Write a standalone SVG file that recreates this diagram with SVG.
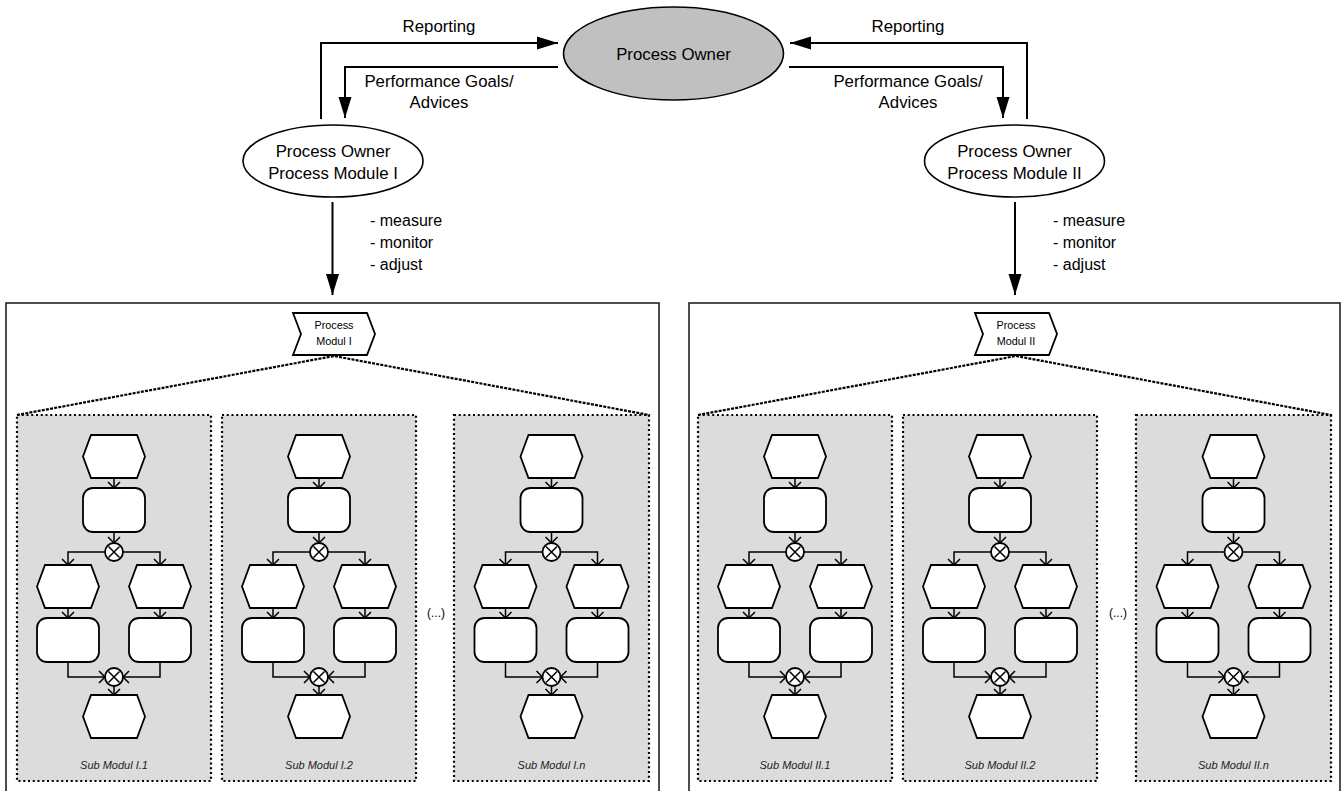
<svg xmlns="http://www.w3.org/2000/svg" xmlns:xlink="http://www.w3.org/1999/xlink" width="1342" height="791" viewBox="0 0 1342 791">
  <style>
    text { font-family: "Liberation Sans", Arial, sans-serif; fill: #000; }
    .lbl { font-size: 16.8px; text-anchor: middle; }
    .lst { font-size: 16px; }
    .small { font-size: 10.8px; text-anchor: middle; }
    .dots { font-size: 12px; text-anchor: middle; }
    .sub { font-size: 11px; font-style: italic; text-anchor: middle; fill: #222; }
    .frame { fill: #fff; stroke: #222; stroke-width: 1.6; }
    .panel { fill: #dcdcdc; stroke: #000; stroke-width: 2.2; stroke-dasharray: 2 2.75; }
    .zoomline { fill: none; stroke: #000; stroke-width: 2.2; stroke-dasharray: 3 1.2; }
    .conn { fill: none; stroke: #000; stroke-width: 2; }
    .flowline { fill: none; stroke: #000; stroke-width: 1.5; }
    .shape { fill: #fff; stroke: #000; stroke-width: 1.8; }
  </style>
  <defs>
    <marker id="solidHead" markerUnits="userSpaceOnUse" markerWidth="22" markerHeight="14" viewBox="0 0 22 14" refX="21" refY="7" orient="auto">
      <path d="M0,0.5 L21,7 L0,13.5 Z" fill="#000"/>
    </marker>
    <marker id="openHead" markerUnits="userSpaceOnUse" markerWidth="16" markerHeight="16" viewBox="-8 -8 16 16" refX="0" refY="0" orient="auto">
      <path d="M-6,-6 L0,0 L-6,6" fill="none" stroke="#000" stroke-width="1.5"/>
    </marker>
    <!-- generic process flow drawn around x = 0 -->
    <g id="flow">
      <g class="flow-links">
        <path class="flowline" d="M0,478 V488" marker-end="url(#openHead)"/>
        <path class="flowline" d="M0,532 V543" marker-end="url(#openHead)"/>
        <path class="flowline" d="M-9,552 H-46 V565" marker-end="url(#openHead)"/>
        <path class="flowline" d="M9,552 H46 V565" marker-end="url(#openHead)"/>
        <path class="flowline" d="M-46,608 V618" marker-end="url(#openHead)"/>
        <path class="flowline" d="M46,608 V618" marker-end="url(#openHead)"/>
        <path class="flowline" d="M-46,662 V677 H-9" marker-end="url(#openHead)"/>
        <path class="flowline" d="M46,662 V677 H9" marker-end="url(#openHead)"/>
        <path class="flowline" d="M0,686 V695" marker-end="url(#openHead)"/>
      </g>
      <polygon class="shape" points="-31,456.5 -23,435 23,435 31,456.5 23,478 -23,478"/>
      <rect class="shape" x="-31" y="488" width="62" height="44" rx="10"/>
      <g class="xor">
        <circle class="shape" cx="0" cy="552" r="9"/>
        <path class="flowline" d="M-5.5,546.5 L5.5,557.5 M5.5,546.5 L-5.5,557.5"/>
      </g>
      <polygon class="shape" points="-77,586.5 -69,565 -23,565 -15,586.5 -23,608 -69,608"/>
      <polygon class="shape" points="15,586.5 23,565 69,565 77,586.5 69,608 23,608"/>
      <rect class="shape" x="-77" y="618" width="62" height="44" rx="10"/>
      <rect class="shape" x="15" y="618" width="62" height="44" rx="10"/>
      <g class="xor">
        <circle class="shape" cx="0" cy="677" r="9"/>
        <path class="flowline" d="M-5.5,671.5 L5.5,682.5 M5.5,671.5 L-5.5,682.5"/>
      </g>
      <polygon class="shape" points="-31,716.5 -23,695 23,695 31,716.5 23,738 -23,738"/>
    </g>
  </defs>

  <!-- module frames -->
  <g id="frame-module-1">
    <rect class="frame" x="6" y="303" width="653" height="500"/>
  </g>
  <g id="frame-module-2">
    <rect class="frame" x="689" y="303" width="651" height="500"/>
  </g>

  <!-- owners -->
  <g id="process-owner">
    <ellipse cx="673.5" cy="53.5" rx="110" ry="46.5" fill="#c0c0c0" stroke="#000" stroke-width="1.6"/>
    <text class="lbl" x="673.5" y="60">Process Owner</text>
  </g>
  <g id="owner-module-1">
    <ellipse cx="333" cy="161" rx="90" ry="36" fill="#fff" stroke="#000" stroke-width="1.6"/>
    <text class="lbl" x="333" y="157">Process Owner</text>
    <text class="lbl" x="333" y="178.5">Process Module I</text>
  </g>
  <g id="owner-module-2">
    <ellipse cx="1014.5" cy="161" rx="90" ry="36" fill="#fff" stroke="#000" stroke-width="1.6"/>
    <text class="lbl" x="1014.5" y="157">Process Owner</text>
    <text class="lbl" x="1014.5" y="178.5">Process Module II</text>
  </g>

  <!-- module chevrons -->
  <g id="module-1">
    <polygon class="shape" points="293,313 367,313 375,334 367,355 293,355 301,334" stroke-width="1.4"/>
    <text class="small" x="334" y="329">Process</text>
    <text class="small" x="334" y="345">Modul I</text>
  </g>
  <g id="module-2">
    <polygon class="shape" points="975,313 1049,313 1057,334 1049,355 975,355 983,334" stroke-width="1.4"/>
    <text class="small" x="1016" y="329">Process</text>
    <text class="small" x="1016" y="345">Modul II</text>
  </g>

  <!-- sub-module panels -->
  <g id="sub-1-1">
    <rect class="panel" x="17" y="415" width="194" height="366"/>
    <use xlink:href="#flow" href="#flow" transform="translate(114,0)"/>
    <text class="sub" x="114" y="769">Sub Modul I.1</text>
  </g>
  <g id="sub-1-2">
    <rect class="panel" x="222" y="415" width="194" height="366"/>
    <use xlink:href="#flow" href="#flow" transform="translate(319,0)"/>
    <text class="sub" x="319" y="769">Sub Modul I.2</text>
  </g>
  <g id="sub-1-n">
    <rect class="panel" x="454" y="415" width="195" height="366"/>
    <use xlink:href="#flow" href="#flow" transform="translate(551.5,0)"/>
    <text class="sub" x="551.5" y="769">Sub Modul I.n</text>
  </g>
  <g id="sub-2-1">
    <rect class="panel" x="698" y="415" width="194" height="366"/>
    <use xlink:href="#flow" href="#flow" transform="translate(795,0)"/>
    <text class="sub" x="795" y="769">Sub Modul II.1</text>
  </g>
  <g id="sub-2-2">
    <rect class="panel" x="903" y="415" width="194" height="366"/>
    <use xlink:href="#flow" href="#flow" transform="translate(1000,0)"/>
    <text class="sub" x="1000" y="769">Sub Modul II.2</text>
  </g>
  <g id="sub-2-n">
    <rect class="panel" x="1136" y="415" width="195" height="366"/>
    <use xlink:href="#flow" href="#flow" transform="translate(1233.5,0)"/>
    <text class="sub" x="1233.5" y="769">Sub Modul II.n</text>
  </g>
  <g id="ellipsis-1"><text class="dots" x="436" y="617">(...)</text></g>
  <g id="ellipsis-2"><text class="dots" x="1118" y="617">(...)</text></g>

  <!-- connectors -->
  <g id="connectors">
    <path class="zoomline" d="M17,415 L334,356 L649,415"/>
    <path class="zoomline" d="M698,415 L1016,356 L1331,415"/>
    <path class="conn" d="M321,119 V43 H558" marker-end="url(#solidHead)"/>
    <path class="conn" d="M558,67 H345 V118" marker-end="url(#solidHead)"/>
    <path class="conn" d="M1027,119 V43 H790" marker-end="url(#solidHead)"/>
    <path class="conn" d="M789,67 H1003 V118" marker-end="url(#solidHead)"/>
    <path class="conn" d="M332.5,202 V295" marker-end="url(#solidHead)"/>
    <path class="conn" d="M1015,202 V295" marker-end="url(#solidHead)"/>
  </g>

  <!-- connector labels -->
  <g id="labels">
    <text class="lbl" x="439" y="32">Reporting</text>
    <text class="lbl" x="439" y="87">Performance Goals/</text>
    <text class="lbl" x="439" y="108">Advices</text>
    <text class="lbl" x="908" y="32">Reporting</text>
    <text class="lbl" x="908" y="87">Performance Goals/</text>
    <text class="lbl" x="908" y="108">Advices</text>
    <text class="lst" x="370" y="226">- measure</text>
    <text class="lst" x="370" y="248">- monitor</text>
    <text class="lst" x="370" y="270">- adjust</text>
    <text class="lst" x="1053" y="226">- measure</text>
    <text class="lst" x="1053" y="248">- monitor</text>
    <text class="lst" x="1053" y="270">- adjust</text>
  </g>
</svg>
